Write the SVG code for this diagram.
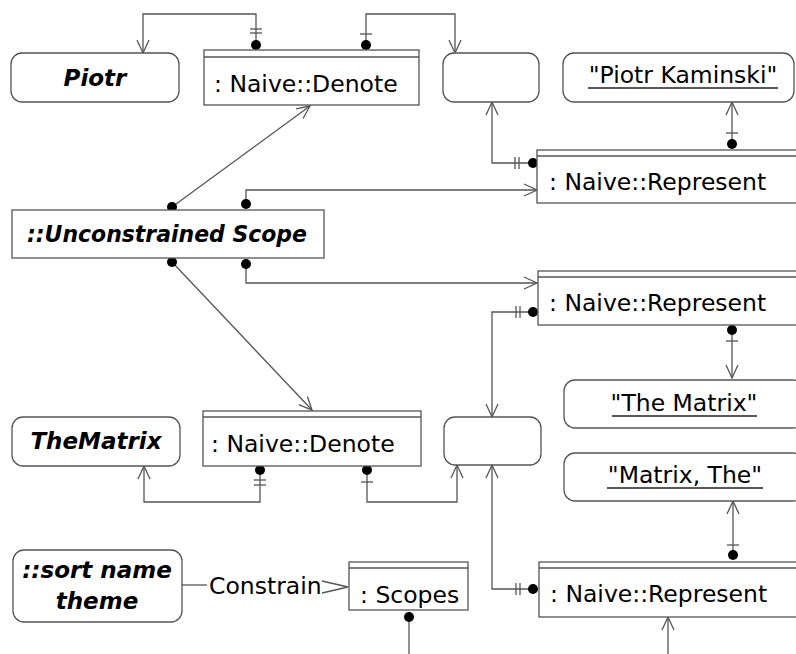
<svg xmlns="http://www.w3.org/2000/svg" width="796" height="654" viewBox="0 0 796 654">
<style>
.box{fill:#fff;stroke:#555;stroke-width:1.3}
.ln{fill:none;stroke:#555;stroke-width:1.3}
.tk{stroke:#555;stroke-width:1.3}
.dot{fill:#000}
.t{font-family:"DejaVu Sans",sans-serif;font-size:23.5px;fill:#000}
.bi{font-family:"DejaVu Sans",sans-serif;font-size:23px;font-weight:bold;font-style:italic;fill:#000}
.ul{stroke:#222;stroke-width:1.4}
</style>
<defs>
<marker id="arr" markerUnits="userSpaceOnUse" markerWidth="16" markerHeight="16" viewBox="-14 -8 16 16" refX="0" refY="0" orient="auto">
<path d="M-13,-6 L0,0 L-13,6" fill="none" stroke="#555" stroke-width="1.3"/>
</marker>
</defs>
<rect width="796" height="654" fill="#fff"/>

<g id="connectors">
<path class="ln" d="M256,45 V14 H143 V53" marker-end="url(#arr)"/>
<line class="tk" x1="250" y1="29" x2="262" y2="29"/><line class="tk" x1="250" y1="33" x2="262" y2="33"/>
<circle class="dot" cx="256" cy="45" r="5"/>
<path class="ln" d="M366,45 V14 H455 V53" marker-end="url(#arr)"/>
<line class="tk" x1="360" y1="34" x2="372" y2="34"/>
<circle class="dot" cx="366" cy="45" r="5"/>
<path class="ln" d="M172,207 L310,106" marker-end="url(#arr)"/>
<circle class="dot" cx="172" cy="207" r="5"/>
<path class="ln" d="M246,204 V190 H537" marker-end="url(#arr)"/>
<circle class="dot" cx="246" cy="204" r="5"/>
<path class="ln" d="M172,262 L312,410" marker-end="url(#arr)"/>
<circle class="dot" cx="172" cy="262" r="5"/>
<path class="ln" d="M246,264 V283 H537" marker-end="url(#arr)"/>
<circle class="dot" cx="246" cy="264" r="5"/>
<path class="ln" d="M732,144 V102" marker-end="url(#arr)"/>
<line class="tk" x1="726" y1="133" x2="738" y2="133"/>
<circle class="dot" cx="732" cy="144" r="5"/>
<path class="ln" d="M533,163 H492 V102" marker-end="url(#arr)"/>
<line class="tk" x1="515" y1="157" x2="515" y2="169"/><line class="tk" x1="519" y1="157" x2="519" y2="169"/>
<circle class="dot" cx="533" cy="163" r="5"/>
<path class="ln" d="M533,312 H492 V417" marker-end="url(#arr)"/>
<line class="tk" x1="516" y1="306" x2="516" y2="318"/><line class="tk" x1="520" y1="306" x2="520" y2="318"/>
<circle class="dot" cx="533" cy="312" r="5"/>
<path class="ln" d="M732,330 V378" marker-end="url(#arr)"/>
<line class="tk" x1="726" y1="341" x2="738" y2="341"/>
<circle class="dot" cx="732" cy="330" r="5"/>
<path class="ln" d="M260,470 V502 H144 V466" marker-end="url(#arr)"/>
<line class="tk" x1="254" y1="480" x2="266" y2="480"/><line class="tk" x1="254" y1="485" x2="266" y2="485"/>
<circle class="dot" cx="260" cy="470" r="5"/>
<path class="ln" d="M367,470 V502 H457 V465" marker-end="url(#arr)"/>
<line class="tk" x1="361" y1="482" x2="373" y2="482"/>
<circle class="dot" cx="367" cy="470" r="5"/>
<path class="ln" d="M533,589 H492 V465" marker-end="url(#arr)"/>
<line class="tk" x1="516" y1="583" x2="516" y2="595"/><line class="tk" x1="520" y1="583" x2="520" y2="595"/>
<circle class="dot" cx="533" cy="589" r="5"/>
<path class="ln" d="M733,555 V501" marker-end="url(#arr)"/>
<line class="tk" x1="727" y1="545" x2="739" y2="545"/>
<circle class="dot" cx="733" cy="555" r="5"/>
<path class="ln" d="M668,654 V617" marker-end="url(#arr)"/>
<line class="ln" x1="182" y1="585" x2="207" y2="585"/>
<text class="t" x="209" y="594">Constrain</text>
<path class="ln" d="M322,581 L348,587 L322,593"/>
<path class="ln" d="M409,617 V654"/>
<circle class="dot" cx="409" cy="617" r="5"/>
</g>

<g id="piotr">
<rect class="box" x="11" y="53" width="168" height="49" rx="11"/>
<text class="bi" x="95" y="86" text-anchor="middle">Piotr</text>
</g>
<g id="denote1">
<rect class="box" x="204" y="50" width="215" height="55"/>
<line class="ln" x1="204" y1="57" x2="419" y2="57"/>
<text class="t" x="214" y="92">: Naive::Denote</text>
</g>
<g id="empty1">
<rect class="box" x="443" y="53" width="96" height="49" rx="11"/>
</g>
<g id="piotrKaminski">
<rect class="box" x="563" y="53" width="231" height="49" rx="11"/>
<text class="t" x="683" y="83" text-anchor="middle">"Piotr Kaminski"</text>
<line class="ul" x1="588" y1="88" x2="778" y2="88"/>
</g>
<g id="represent1">
<rect class="box" x="537" y="150" width="270" height="53"/>
<line class="ln" x1="537" y1="156" x2="800" y2="156"/>
<text class="t" x="549" y="190">: Naive::Represent</text>
</g>
<g id="unconstrainedScope">
<rect class="box" x="12" y="210" width="312" height="48"/>
<text class="bi" x="27" y="242" font-size="22" textLength="280" lengthAdjust="spacingAndGlyphs">::Unconstrained Scope</text>
</g>
<g id="represent2">
<rect class="box" x="538" y="271" width="270" height="54"/>
<line class="ln" x1="538" y1="277" x2="800" y2="277"/>
<text class="t" x="549" y="311">: Naive::Represent</text>
</g>
<g id="theMatrixStr">
<rect class="box" x="564" y="380" width="240" height="48" rx="11"/>
<text class="t" x="684" y="411" text-anchor="middle">"The Matrix"</text>
<line class="ul" x1="612" y1="416" x2="757" y2="416"/>
</g>
<g id="theMatrix">
<rect class="box" x="12" y="417" width="168" height="49" rx="11"/>
<text class="bi" x="96" y="449" text-anchor="middle">TheMatrix</text>
</g>
<g id="denote2">
<rect class="box" x="203" y="411" width="218" height="55"/>
<line class="ln" x1="203" y1="417" x2="421" y2="417"/>
<text class="t" x="211" y="452">: Naive::Denote</text>
</g>
<g id="empty2">
<rect class="box" x="444" y="417" width="97" height="48" rx="11"/>
</g>
<g id="matrixTheStr">
<rect class="box" x="564" y="453" width="240" height="48" rx="11"/>
<text class="t" x="685" y="483" text-anchor="middle">"Matrix, The"</text>
<line class="ul" x1="607" y1="488" x2="763" y2="488"/>
</g>
<g id="sortNameTheme">
<rect class="box" x="13" y="550" width="169" height="72" rx="11"/>
<text class="bi" x="97" y="578" text-anchor="middle">::sort name</text>
<text class="bi" x="97" y="609" text-anchor="middle">theme</text>
</g>
<g id="scopes">
<rect class="box" x="349" y="562" width="119" height="48"/>
<line class="ln" x1="349" y1="568" x2="468" y2="568"/>
<text class="t" x="360" y="603">: Scopes</text>
</g>
<g id="represent3">
<rect class="box" x="539" y="562" width="270" height="55"/>
<line class="ln" x1="539" y1="568" x2="800" y2="568"/>
<text class="t" x="550" y="602">: Naive::Represent</text>
</g>
</svg>
